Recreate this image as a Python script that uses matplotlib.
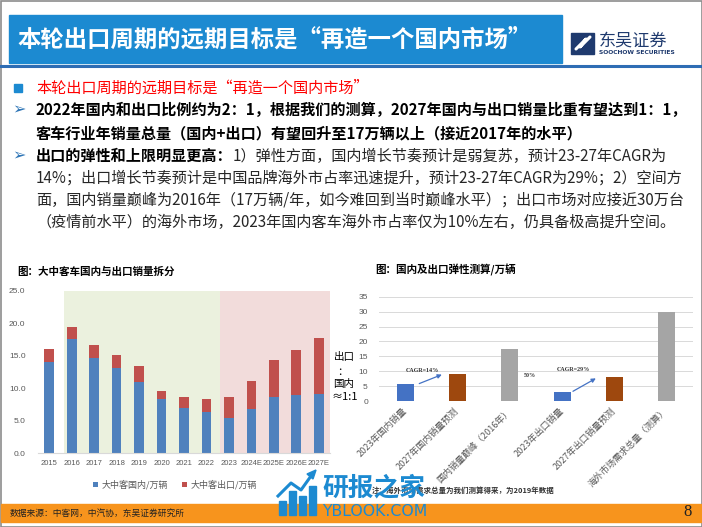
import matplotlib.pyplot as plt
import numpy as np
from matplotlib.patches import Rectangle, Polygon

plt.rcParams['font.family'] = ['Noto Sans CJK SC', 'DejaVu Sans']

W, H = 702, 527

# left chart: 大中客车国内与出口销量 (万辆)
years = ['2015', '2016', '2017', '2018', '2019', '2020', '2021', '2022',
         '2023', '2024E', '2025E', '2026E', '2027E']
domestic = [14.1, 17.5, 14.7, 13.1, 11.0, 8.3, 7.0, 6.3, 5.5, 6.8, 8.7, 8.9, 9.1]
export = [2.0, 1.9, 2.0, 2.0, 2.4, 1.3, 1.7, 2.1, 3.1, 4.3, 5.7, 7.0, 8.7]

# right chart: 国内及出口弹性测算 (万辆)
calc_labels = ['2023年国内销量', '2027年国内销量预测', '国内销量巅峰（2016年）',
               '2023年出口销量', '2027年出口销量预测', '海外市场需求总量（测算）']
calc_values = [5.6, 9.0, 17.5, 3.1, 8.0, 30.0]

bullet_lines = [
    '2022年国内和出口比例约为2：1，根据我们的测算，2027年国内与出口销量比重有望达到1：1，',
    '客车行业年销量总量（国内+出口）有望回升至17万辆以上（接近2017年的水平）',
]
elastic_head = '出口的弹性和上限明显更高：'
elastic_lines = [
    '1）弹性方面，国内增长节奏预计是弱复苏，预计23-27年CAGR为',
    '14%；出口增长节奏预计是中国品牌海外市占率迅速提升，预计23-27年CAGR为29%；2）空间方',
    '面，国内销量巅峰为2016年（17万辆/年，如今难回到当时巅峰水平）；出口市场对应接近30万台',
    '（疫情前水平）的海外市场，2023年国内客车海外市占率仅为10%左右，仍具备极高提升空间。',
]

fig = plt.figure(figsize=(W / 100, H / 100), dpi=100)
bg = fig.add_axes([0, 0, 1, 1])
bg.set_xlim(0, W)
bg.set_ylim(H, 0)
bg.axis('off')


def px_axes(x0, y0, x1, y1, **kw):
    return fig.add_axes([x0 / W, 1 - y1 / H, (x1 - x0) / W, (y1 - y0) / H], **kw)


# slide frame, header, footer
bg.add_patch(Rectangle((0.5, 0.5), W - 1, H - 1, fill=False, ec='#8c8c8c', lw=1.2))
bg.add_patch(Rectangle((9, 15), 553, 48, color='#1C8AD1'))
bg.text(17, 40, '本轮出口周期的远期目标是“再造一个国内市场”', color='white',
        fontsize=16.8, fontweight='bold', va='center')
bg.plot([1, W - 1], [66, 66], color='#2E6DB4', lw=2.2)
bg.add_patch(Rectangle((571, 33), 23, 21, color='#1F3A6E'))
bg.plot([576, 586, 580, 590], [49, 39, 47, 37], color='white', lw=2.2, solid_capstyle='round')
bg.text(599, 41, '东吴证券', color='#1F3A6E', fontsize=12.3, va='center')
bg.text(599, 53, 'SOOCHOW SECURITIES', color='#1F3A6E', fontsize=4.3,
        fontweight='bold', va='center', family=['DejaVu Sans'])

bg.add_patch(Rectangle((1, 504), W - 2, 18, color='#F7941D'))
bg.text(10, 513, '数据来源：中客网，中汽协，东吴证券研究所', color='#222222',
        fontsize=6.3, va='center')
bg.text(683, 512, '8', color='#222222', fontsize=12, va='center', family=['Liberation Serif'])

# bullet text
fs = 10.9
bg.add_patch(Rectangle((14, 84), 8, 8, color='#1C8AD1'))
bg.text(36, 88, '本轮出口周期的远期目标是“再造一个国内市场”', color='#FF0000',
        fontsize=fs, va='center')
for y in (110, 156):
    bg.text(12, y, '➢', color='#2E75B6', fontsize=11.5, fontweight='bold', va='center',
            family=['DejaVu Sans'])
bg.text(36, 110, bullet_lines[0], fontsize=fs, fontweight='bold', va='center')
bg.text(36, 133, bullet_lines[1], fontsize=fs, fontweight='bold', va='center')
head = bg.text(36, 156, elastic_head, fontsize=fs, fontweight='bold', va='center')
r = fig.canvas.get_renderer()
x_next = head.get_window_extent(r).x1
bg.text(x_next, 156, elastic_lines[0], fontsize=fs, va='center', color='#262626')
for i, line in enumerate(elastic_lines[1:]):
    bg.text(36, 178 + 22 * i, line, fontsize=fs, va='center', color='#262626')

# chart titles
bg.text(17, 272, '图：大中客车国内与出口销量拆分', fontsize=7.6, fontweight='bold', va='center')
bg.text(375, 270, '图：国内及出口弹性测算/万辆', fontsize=7.6, fontweight='bold', va='center')

# left chart
axL = px_axes(38, 290.7, 330, 453.3)
x = np.arange(len(years))
axL.axvspan(0.65, 7.6, color='#EBF1DE', lw=0)
axL.axvspan(7.6, 12.5, color='#F2DCDB', lw=0)
axL.bar(x, domestic, width=0.43, color='#4F81BD', label='大中客国内/万辆')
axL.bar(x, export, width=0.43, bottom=domestic, color='#C0504D', label='大中客出口/万辆')
axL.set_xlim(-0.5, 12.5)
axL.set_ylim(0, 25)
axL.set_yticks(np.arange(0, 26, 5))
axL.set_yticklabels(['%.1f' % v for v in np.arange(0, 26, 5)])
axL.set_xticks(x)
axL.set_xticklabels(years)
axL.tick_params(axis='x', length=0, labelsize=5.5, labelcolor='#595959', pad=5)
axL.tick_params(axis='y', length=0, labelsize=6, labelcolor='#595959', pad=9)
for lab in axL.get_xticklabels() + axL.get_yticklabels():
    lab.set_family(['Liberation Sans'])
for s in ['top', 'right', 'left']:
    axL.spines[s].set_visible(False)
axL.spines['bottom'].set_color('#D9D9D9')
axL.patch.set_alpha(0)
axL.legend(loc='center', bbox_to_anchor=(0.47, -0.195), ncol=2, frameon=False,
           fontsize=6.5, handlelength=0.6, handleheight=0.6, columnspacing=1.5,
           handletextpad=0.4, labelcolor='#595959')

bg.text(344, 357, '出口', fontsize=7.6, ha='center', va='center')
bg.text(342, 372, '：', fontsize=7.6, ha='center', va='center')
bg.text(344, 384, '国内', fontsize=7.6, ha='center', va='center')
bg.text(345, 397, '≈1:1', fontsize=8, ha='center', va='center')

# right chart
axR = px_axes(379, 296.7, 693, 401)
xr = np.arange(len(calc_labels))
axR.bar(xr, calc_values, width=0.32, zorder=3,
        color=['#4472C4', '#9E480E', '#A5A5A5', '#4472C4', '#9E480E', '#A5A5A5'])
axR.set_xlim(-0.5, 5.5)
axR.set_ylim(0, 35)
axR.set_yticks(np.arange(0, 36, 5))
axR.grid(axis='y', color='#D9D9D9', lw=0.7, zorder=0)
axR.set_xticks(xr)
axR.set_xticklabels(calc_labels, rotation=45, ha='right', va='center', rotation_mode='anchor')
axR.tick_params(axis='x', length=0, labelsize=6.5, labelcolor='#595959', pad=6)
axR.tick_params(axis='y', length=0, labelsize=6, labelcolor='#595959', pad=8)
for lab in axR.get_yticklabels():
    lab.set_family(['Liberation Sans'])
for s in axR.spines.values():
    s.set_visible(False)
axR.patch.set_alpha(0)

small = dict(fontsize=4.3, fontweight='bold', family=['Liberation Serif'], color='#333333',
             ha='center', va='center')
axR.text(0.33, 10.2, 'CAGR=14%', **small)
axR.text(2.39, 8.7, '50%', **small)
axR.text(3.21, 10.7, 'CAGR=29%', **small)
arrow = dict(arrowstyle='-|>', color='#4472C4', lw=0.9, mutation_scale=6)
axR.annotate('', xy=(0.75, 9.2), xytext=(0.22, 5.5), arrowprops=arrow)
axR.annotate('', xy=(3.69, 8.05), xytext=(3.16, 2.8), arrowprops=arrow)

bg.text(372, 490, '注：海外市场需求总量为我们测算得来，为2019年数据', fontsize=5.4,
        fontweight='bold', va='center', color='#333333')

# watermark
top = fig.add_axes([0, 0, 1, 1], zorder=10)
top.set_xlim(0, W)
top.set_ylim(H, 0)
top.axis('off')
wm = '#1C8AD1'
for bx, by in [(279, 501), (289, 491), (299, 496), (309, 486)]:
    top.add_patch(Rectangle((bx, by), 7, 515 - by, color=wm))
top.plot([278, 291, 301, 311], [496, 483, 490, 476], color=wm, lw=2.2)
top.add_patch(Polygon([[307, 474], [316, 470], [313, 479]], color=wm))
top.text(322, 488, '研报之家', color=wm, fontsize=18.5, fontweight='bold', va='center')
top.text(322, 512, 'YBLOOK.COM', color=wm, fontsize=11.3, va='center', family=['DejaVu Sans'])

fig.savefig('out.png', dpi=100)
